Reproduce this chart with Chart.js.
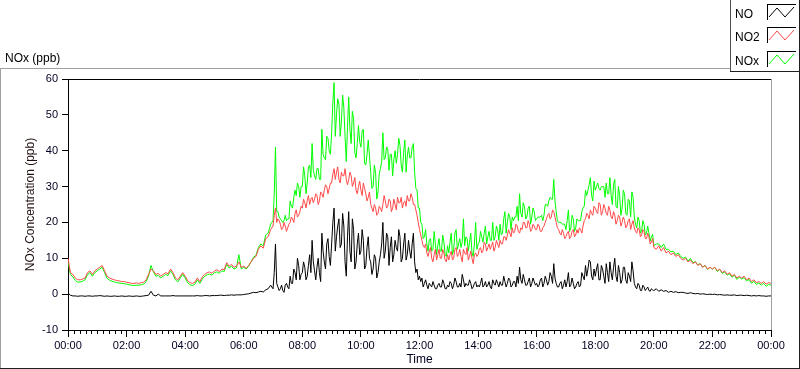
<!DOCTYPE html>
<html>
<head>
<meta charset="utf-8">
<script src="https://cdn.jsdelivr.net/npm/chart.js@4.4.0/dist/chart.umd.min.js"></script>
<style>
  html, body { margin: 0; padding: 0; background: #fff; }
  #wrap { position: relative; width: 800px; height: 369px; overflow: hidden; font-family: "Liberation Sans", Arial, sans-serif; }
  canvas { position: absolute; left: 0; top: 0; }
  .ln { position: absolute; }
  .txt { position: absolute; font-size: 12px; line-height: 14px; color: #000; white-space: nowrap; }
  .sw { position: absolute; left: 767px; width: 29px; height: 16px; }
</style>
</head>
<body>
<div id="wrap">
  <canvas id="c" width="800" height="369"></canvas>
  <!-- panel frame -->
  <div class="ln" style="left:0;top:68px;width:730px;height:1px;background:#a0a0a0"></div>
  <div class="ln" style="left:0;top:68px;width:1px;height:301px;background:#a0a0a0"></div>
  <div class="ln" style="left:0;top:368px;width:800px;height:1px;background:#202020"></div>
  <div class="ln" style="left:799px;top:0;width:1px;height:369px;background:#202020"></div>
  <!-- legend frame -->
  <div class="ln" style="left:730px;top:0;width:1px;height:72px;background:#505050"></div>
  <div class="ln" style="left:730px;top:71px;width:70px;height:1px;background:#202020"></div>
  <div class="txt" style="left:5px;top:51px">NOx (ppb)</div>
  <div id="legend"></div>
</div>
<script>
// ---- data ----
const seriesNames = ["NO", "NO2", "NOx"];
const seriesColors = ["#000000", "#ff4848", "#00ff00"];

// 5-minute samples from 00:00 to 24:00
const NO2 = [
 10, 6, 5.5, 4.5, 4, 4, 4.2, 4.5, 6, 6.5, 5.5, 6.5,
 7, 7.5, 8, 6.5, 5, 4.5, 4.2, 4, 3.8, 3.7, 3.5, 3.5,
 3.3, 3.2, 3, 3, 3.1, 3, 3.2, 3.3, 4, 5.5, 7, 6.5,
 5.5, 5.8, 5, 5.5, 6, 5.7, 7, 6, 4.5, 4, 5, 6,
 5, 3.8, 3.2, 3, 3.3, 4.5, 3.5, 4.8, 5.5, 6, 6.2, 5.8,
 6.5, 6.8, 6.3, 7, 6.8, 8.8, 7.8, 8.3, 7.5, 7.8, 9, 7.5,
 7.8, 7.2, 8, 9, 10, 10.5, 12.5, 13.5, 12.8, 15.5, 16, 18,
 19, 24, 21, 19.5, 18.5, 19, 18.5, 20, 21, 22.5, 21.5, 23,
 24, 25.5, 26, 25, 27, 26.5, 27.5, 26, 28, 29, 30, 29.5,
 31, 35, 34, 32, 34, 33, 32, 32, 33, 31, 29, 30,
 29, 31, 28, 27, 25, 23, 24, 22.5, 24, 25, 26, 24.5,
 26, 24, 25, 27, 25.5, 24, 26, 27.5, 26, 27, 25, 22,
 18, 15, 13, 11.5, 12, 10, 11, 9.5, 12.5, 10, 11.5, 9,
 9.5, 12, 10, 13, 11, 10.5, 12.5, 11, 9.5, 12, 8.5, 11.5,
 11, 13, 12, 14, 13, 12.5, 14.5, 13, 14, 15, 14, 16,
 16.5, 17, 18.5, 17.5, 19, 17, 18, 20, 18.5, 19.5, 18, 19,
 18, 19, 17.5, 19, 21, 22.5, 21.5, 23, 20, 18, 16.5, 17,
 16, 17.5, 16, 18, 16.5, 17, 18, 19, 21, 22, 23.5, 22,
 24, 22.5, 25, 23, 24, 22, 23.5, 21, 22, 20.5, 21.5, 20,
 20.5, 19, 21, 19.5, 18.5, 17, 18, 16.5, 17.5, 15.5, 16, 14.5,
 13, 12.5, 13.5, 12, 13, 11.5, 12, 11, 11.5, 10.5, 11, 10,
 9.5, 10, 9, 9.5, 8.5, 9, 8, 8.5, 7.5, 8, 7, 7.5,
 7, 7.5, 6.5, 7, 6, 6.5, 5.5, 6, 5, 5.5, 4.5, 5,
 4.5, 5, 4, 4.5, 3.5, 4, 3.2, 3.5, 3, 3.5, 2.8, 3.2,
 3
];

const NO = [
 0.3, -0.3, -0.5, -0.5, -0.6, -0.5, -0.5, -0.6, -0.5, -0.5, -0.6, -0.5,
 -0.5, -0.4, -0.5, -0.6, -0.5, -0.6, -0.6, -0.5, -0.6, -0.6, -0.5, -0.6,
 -0.6, -0.5, -0.6, -0.6, -0.5, -0.6, -0.6, -0.5, -0.4, -0.3, 0.8, -0.3,
 -0.5, 0, -0.5, -0.5, -0.5, -0.5, -0.5, -0.4, -0.5, -0.5, -0.5, -0.5,
 -0.5, -0.5, -0.5, -0.5, -0.5, -0.4, -0.5, -0.5, -0.4, -0.4, -0.5, -0.4,
 -0.4, -0.4, -0.3, -0.3, -0.4, -0.3, -0.3, -0.2, -0.3, -0.2, -0.2, -0.2,
 -0.1, 0, 0.1, 0.3, 0.5, 0.4, 0.6, 0.8, 0.6, 1.2, 1.5, 2.5,
 1.5, 14, 2, 1.5, 1, 2.5, 2, 5, 3, 6, 10, 4,
 6, 7.5, 5, 11, 15, 6.5, 7.5, 6, 17, 9, 14, 10.5,
 14, 24, 16, 21, 14, 19, 5, 23, 9, 18, 9, 17,
 12, 15, 8, 16, 9, 7, 10, 6, 11, 20, 12, 16,
 13, 9, 15, 12, 16, 10, 17, 11, 12, 14, 9, 7,
 5, 4.5, 3, 2.5, 3, 2, 2.5, 1.5, 3, 2, 3, 1.5,
 2, 3, 2.5, 3.5, 2, 2, 4, 3, 2.5, 3, 2, 3.5,
 2.5, 3, 2, 3.5, 2.5, 2, 4, 2.5, 3, 3.5, 2.5, 3.5,
 3, 4, 2.5, 3.5, 5, 7.5, 3, 4, 2.5, 4.5, 3, 3.5,
 3, 2.5, 4.5, 3, 4, 3.5, 5, 8.5, 3, 2, 3.5, 2.5,
 2, 6, 2.5, 3, 2, 3.5, 2.5, 5, 8, 7, 9, 4,
 5, 8.5, 4, 7, 3, 6, 9, 4, 10, 3.5, 6, 4,
 7.5, 3, 5, 9, 3, 1.5, 2.5, 1, 2, 1.5, 1, 1.5,
 1, 1.5, 0.8, 1.2, 0.8, 1, 0.5, 0.8, 0.5, 0.7, 0.4, 0.5,
 0.5, 0.3, 0.2, 0.4, 0.2, 0.1, 0.2, 0, 0.1, 0, -0.1, 0,
 -0.1, 0, -0.2, -0.1, -0.2, -0.3, -0.2, -0.3, -0.3, -0.2, -0.4, -0.3,
 -0.3, -0.4, -0.3, -0.4, -0.5, -0.4, -0.5, -0.4, -0.5, -0.5, -0.6, -0.5,
 -0.5
];

const NOx = [
 9, 5.5, 4.8, 3.8, 3.3, 3.4, 3.6, 4, 5.4, 6, 5, 6,
 6.5, 7, 7.5, 6, 4.4, 3.9, 3.6, 3.4, 3.2, 3.1, 3, 2.9,
 2.8, 2.6, 2.5, 2.4, 2.5, 2.5, 2.6, 2.8, 3.5, 5, 8, 6.2,
 5, 5.2, 4.5, 5, 5.5, 5.2, 6.5, 5.5, 4, 3.4, 4.5, 5.5,
 4.5, 3.2, 2.6, 2.4, 2.8, 4, 3, 4.2, 5, 5.4, 5.6, 5.3,
 6, 6.2, 5.8, 6.5, 6.3, 8.3, 7.3, 7.8, 7, 7.3, 11, 7,
 7.5, 7, 7.8, 9, 10.3, 10.8, 13, 14, 13.5, 16.5, 17, 19.5,
 20.5, 41, 23, 21, 20, 22, 21, 26, 24, 29, 31, 27,
 30, 33, 31, 36, 42, 33, 35, 32, 46, 38, 44, 40,
 45, 59, 50, 53, 48, 52, 37, 55, 42, 49, 38, 47,
 41, 46, 36, 43, 34, 30, 34, 28.5, 35, 45, 38, 40.5,
 39, 33, 40, 39, 41.5, 34, 43, 38.5, 38, 41, 34, 29,
 24, 19.5, 16, 14, 15, 12, 17.5, 11, 15.5, 12, 14.5, 10.5,
 11.5, 17, 12.5, 18, 14, 13, 21, 16, 12, 17, 10.5, 20,
 14, 17.5, 14.5, 19, 16, 15, 20, 16, 18, 19.5, 17, 23,
 20, 21.5, 21.5, 21.5, 24.5, 28, 21.5, 24.5, 21.5, 24.5, 21.5, 23,
 21, 21.5, 22, 22, 25, 26, 26.5, 32, 23, 20, 20, 19.5,
 18, 23.5, 18.5, 21, 18.5, 20.5, 20.5, 24, 29, 29, 32.5, 26,
 29, 31, 29, 30, 27, 28, 32.5, 25, 32, 24, 27.5, 24,
 28, 22, 26, 28.5, 21.5, 18.5, 20.5, 17.5, 19.5, 17, 17, 16,
 13.5, 14, 14, 13, 14, 12.5, 12.5, 11.8, 12, 11, 11.5, 10.5,
 10, 10.3, 9.2, 10, 8.7, 9.1, 8.2, 8.5, 7.6, 8, 6.9, 7.5,
 6.9, 7.5, 6.3, 6.9, 5.8, 6.2, 5.3, 5.7, 4.7, 5.3, 4.1, 4.7,
 4.2, 4.6, 3.7, 4.1, 3, 3.6, 2.7, 3.1, 2.5, 3, 2.2, 2.7,
 2.5
];

// extra in-between samples (hh:02.5, hh:07.5 ...) for the busy period 07:00–20:00
const midStartMinute = 420;
const NO2_mid = [
 22, 20, 20.5, 18, 20, 17.5, 19.5, 21.5, 20, 23.5, 22, 24.5,
 26.5, 24, 27.5, 26.5, 25.5, 28, 25, 28.5, 27, 30.5, 28, 31,
 33.5, 32, 35.5, 31, 33, 35, 30.5, 34, 30, 32.5, 28, 31.5,
 27.5, 29.5, 26, 28.5, 24, 25, 22, 24.5, 23, 27.5, 24, 26.5,
 23, 26.5, 23.5, 25.5, 27, 25.5, 24.5, 26, 28, 25, 23.5, 20,
 16.5, 13.5, 14, 10.5, 13, 9, 12.5, 11, 10, 12.5, 9.5, 11,
 11, 9.5, 12.5, 10.5, 12.5, 9, 11.5, 13, 10.5, 10, 11, 10.5,
 12.5, 11.5, 14.5, 12, 14, 13.5, 12, 15, 13, 14, 16, 15,
 18, 16, 17, 19.5, 17.5, 18.5, 20, 18.5, 20.5, 17.5, 19.5, 18,
 19.5, 17.5, 18.5, 20, 22, 21, 23.5, 21.5, 18.5, 17, 18, 15.5,
 17, 15.5, 17.5, 16, 18, 18.5, 17, 20.5, 22.5, 21, 22.5, 24.5,
 23, 25.5, 22, 25, 22.5, 24.5, 21.5, 23, 19.5, 22, 19, 21.5,
 18.5, 20.5, 18, 20.5, 17.5, 18.5, 16, 18, 15.5, 17, 14, 15.5
];
const NO_mid = [
 6, 3, 1, 2.5, 0.5, 3, 1.5, 3, 7, 4, 8, 5.5,
 9, 4, 8, 6, 9, 4, 10, 3.5, 12, 7, 15.5, 8,
 20, 12, 19, 13, 22.5, 9, 16, 12, 21, 7, 14, 11,
 18, 7, 13, 10, 5.5, 11, 4.5, 9, 14, 10, 17, 8,
 16, 11, 13, 18, 9, 14, 9.5, 15, 10, 17, 6, 4,
 3.5, 2, 4, 1.5, 2.5, 3.5, 1.5, 2.5, 2, 4, 1.5, 2.5,
 3.5, 1.5, 4.5, 2, 3, 5.5, 2, 2.5, 4, 1.5, 3, 2,
 2, 4.5, 2.5, 2, 3.5, 1.5, 3, 4, 2, 2.5, 5, 2,
 4.5, 2, 3.5, 2, 3, 4, 5.5, 2.5, 3.5, 2, 4.5, 2.5,
 2, 4, 2, 5, 2.5, 6, 3, 4.5, 2, 3, 1.5, 4,
 3.5, 2, 4.5, 1.5, 3, 2, 6, 4, 5, 9.5, 5, 7,
 7, 4, 8, 5, 8.5, 3.5, 6, 7.5, 5, 8, 3, 7.5,
 4, 6, 3.5, 6.5, 2, 3, 1, 2.5, 1, 2, 0.8, 1.2
];
const NOx_mid = [
 28, 23, 21.5, 20.5, 20.5, 20.5, 21, 24.5, 27, 27.5, 30, 30,
 35.5, 28, 35.5, 32.5, 34.5, 32, 35, 32, 39, 37.5, 43.5, 39,
 53.5, 44, 54.5, 44, 55.5, 44, 46.5, 46, 51, 39.5, 42, 42.5,
 45.5, 36.5, 39, 38.5, 29.5, 36, 26.5, 33.5, 37, 37.5, 41, 34.5,
 39, 37.5, 36.5, 43.5, 36, 39.5, 34, 41, 38, 42, 29.5, 24,
 20, 15.5, 18, 12, 15.5, 12.5, 14, 13.5, 12, 16.5, 11, 13.5,
 14.5, 11, 17, 12.5, 15.5, 14.5, 13.5, 15.5, 14.5, 11.5, 14, 12.5,
 14.5, 16, 17, 14, 17.5, 15, 15, 19, 15, 16.5, 21, 17,
 22.5, 18, 20.5, 21.5, 20.5, 22.5, 25.5, 21, 24, 19.5, 24, 20.5,
 21.5, 21.5, 20.5, 25, 24.5, 27, 26.5, 26, 20.5, 20, 19.5, 19.5,
 20.5, 17.5, 22, 17.5, 21, 20.5, 23, 24.5, 27.5, 30.5, 27.5, 31.5,
 30, 29.5, 30, 30, 31, 28, 27.5, 30.5, 24.5, 30, 22, 29,
 22.5, 26.5, 21.5, 27, 19.5, 21.5, 17, 20.5, 16.5, 19, 14.8, 16.7
];

// axis ticks
const xTickStep = 120;   // major x ticks (minutes)
const xMinorStep = 12;   // minor x ticks (minutes)
const yTicks = [-10, 0, 10, 20, 30, 40, 50, 60];

function buildPoints(base, mid) {
  const pts = base.map((v, i) => ({ x: i * 5, y: v }));
  mid.forEach((v, j) => pts.push({ x: midStartMinute + j * 5 + 2.5, y: v }));
  pts.sort((a, b) => a.x - b.x);
  return pts;
}
const seriesPoints = [buildPoints(NO, NO_mid), buildPoints(NO2, NO2_mid), buildPoints(NOx, NOx_mid)];

// ---- legend (HTML) ----
const legendEl = document.getElementById('legend');
seriesNames.forEach((name, i) => {
  const top = 3 + i * 23.3;
  const t = document.createElement('div');
  t.className = 'txt';
  t.style.left = '735px';
  t.style.top = (top + 4) + 'px';
  t.textContent = name;
  legendEl.appendChild(t);
  const s = document.createElementNS('http://www.w3.org/2000/svg', 'svg');
  s.setAttribute('class', 'sw');
  s.setAttribute('width', '30'); s.setAttribute('height', '17');
  s.style.top = Math.round(top + 1) + 'px';
  s.innerHTML = '<rect x="0.5" y="0.5" width="29" height="16" fill="#fff" stroke="#000" stroke-width="1"/>' +
    '<polyline points="2,13 10,4 18,13 27,3" fill="none" stroke="' + seriesColors[i] + '" stroke-width="1"/>';
  legendEl.appendChild(s);
});

// ---- plugins ----
const framePlugin = {
  id: 'frame',
  afterDraw(chart) {
    const { ctx, chartArea: a, scales: { x } } = chart;
    ctx.save();
    ctx.lineWidth = 1;
    ctx.strokeStyle = '#000';
    ctx.beginPath();
    ctx.moveTo(a.left, Math.floor(a.top) + 0.5);
    ctx.lineTo(a.right, Math.floor(a.top) + 0.5);
    ctx.stroke();
    ctx.strokeStyle = '#a0a0a0';
    ctx.beginPath();
    ctx.moveTo(Math.floor(a.right) + 0.5, a.top);
    ctx.lineTo(Math.floor(a.right) + 0.5, a.bottom);
    ctx.stroke();
    ctx.strokeStyle = '#000';
    ctx.beginPath();
    for (let m = xMinorStep; m < 1440; m += xMinorStep) {
      if (m % xTickStep === 0) continue;
      const px = Math.round(x.getPixelForValue(m)) + 0.5;
      ctx.moveTo(px, a.bottom);
      ctx.lineTo(px, a.bottom + 4);
    }
    ctx.stroke();
    ctx.restore();
  }
};

const fontTick = { family: '"Liberation Sans", Arial, sans-serif', size: 11 };
const fontTitle = { family: '"Liberation Sans", Arial, sans-serif', size: 12 };

new Chart(document.getElementById('c'), {
  type: 'line',
  data: {
    datasets: seriesNames.map((name, i) => ({
      label: name,
      data: seriesPoints[i],
      borderColor: seriesColors[i],
      backgroundColor: seriesColors[i],
      borderWidth: 1,
      pointRadius: 0,
      tension: 0,
      fill: false
    }))
  },
  options: {
    responsive: false,
    animation: false,
    devicePixelRatio: 1,
    layout: { padding: { top: 79, right: 29, left: 0, bottom: 0 } },
    plugins: { legend: { display: false }, tooltip: { enabled: false } },
    scales: {
      x: {
        type: 'linear',
        min: 0, max: 1440,
        afterFit(s) { s.height = 39; },
        afterBuildTicks(s) {
          const t = [];
          for (let m = 0; m <= 1440; m += xTickStep) t.push({ value: m });
          s.ticks = t;
        },
        ticks: {
          autoSkip: false, maxRotation: 0, padding: 2, color: '#000020', font: fontTick,
          callback(v) { const h = Math.floor(v / 60) % 24; return String(h).padStart(2, '0') + ':00'; }
        },
        grid: { drawOnChartArea: false, drawTicks: true, tickLength: 7, color: '#000', tickColor: '#000' },
        border: { display: true, color: '#000' },
        title: { display: true, text: 'Time', color: '#000020', font: fontTitle, padding: { top: 0, bottom: 2 } }
      },
      y: {
        min: -10, max: 60,
        afterFit(s) { s.width = 68; },
        afterBuildTicks(s) { s.ticks = yTicks.map(v => ({ value: v })); },
        ticks: { padding: 4, color: '#000020', font: fontTick },
        grid: { drawOnChartArea: false, drawTicks: true, tickLength: 6, color: '#000', tickColor: '#000' },
        border: { display: true, color: '#000' },
        title: { display: true, text: 'NOx Concentration (ppb)', color: '#201010', font: fontTitle, padding: { top: 23, bottom: 0 } }
      }
    }
  },
  plugins: [framePlugin]
});
</script>
</body>
</html>
